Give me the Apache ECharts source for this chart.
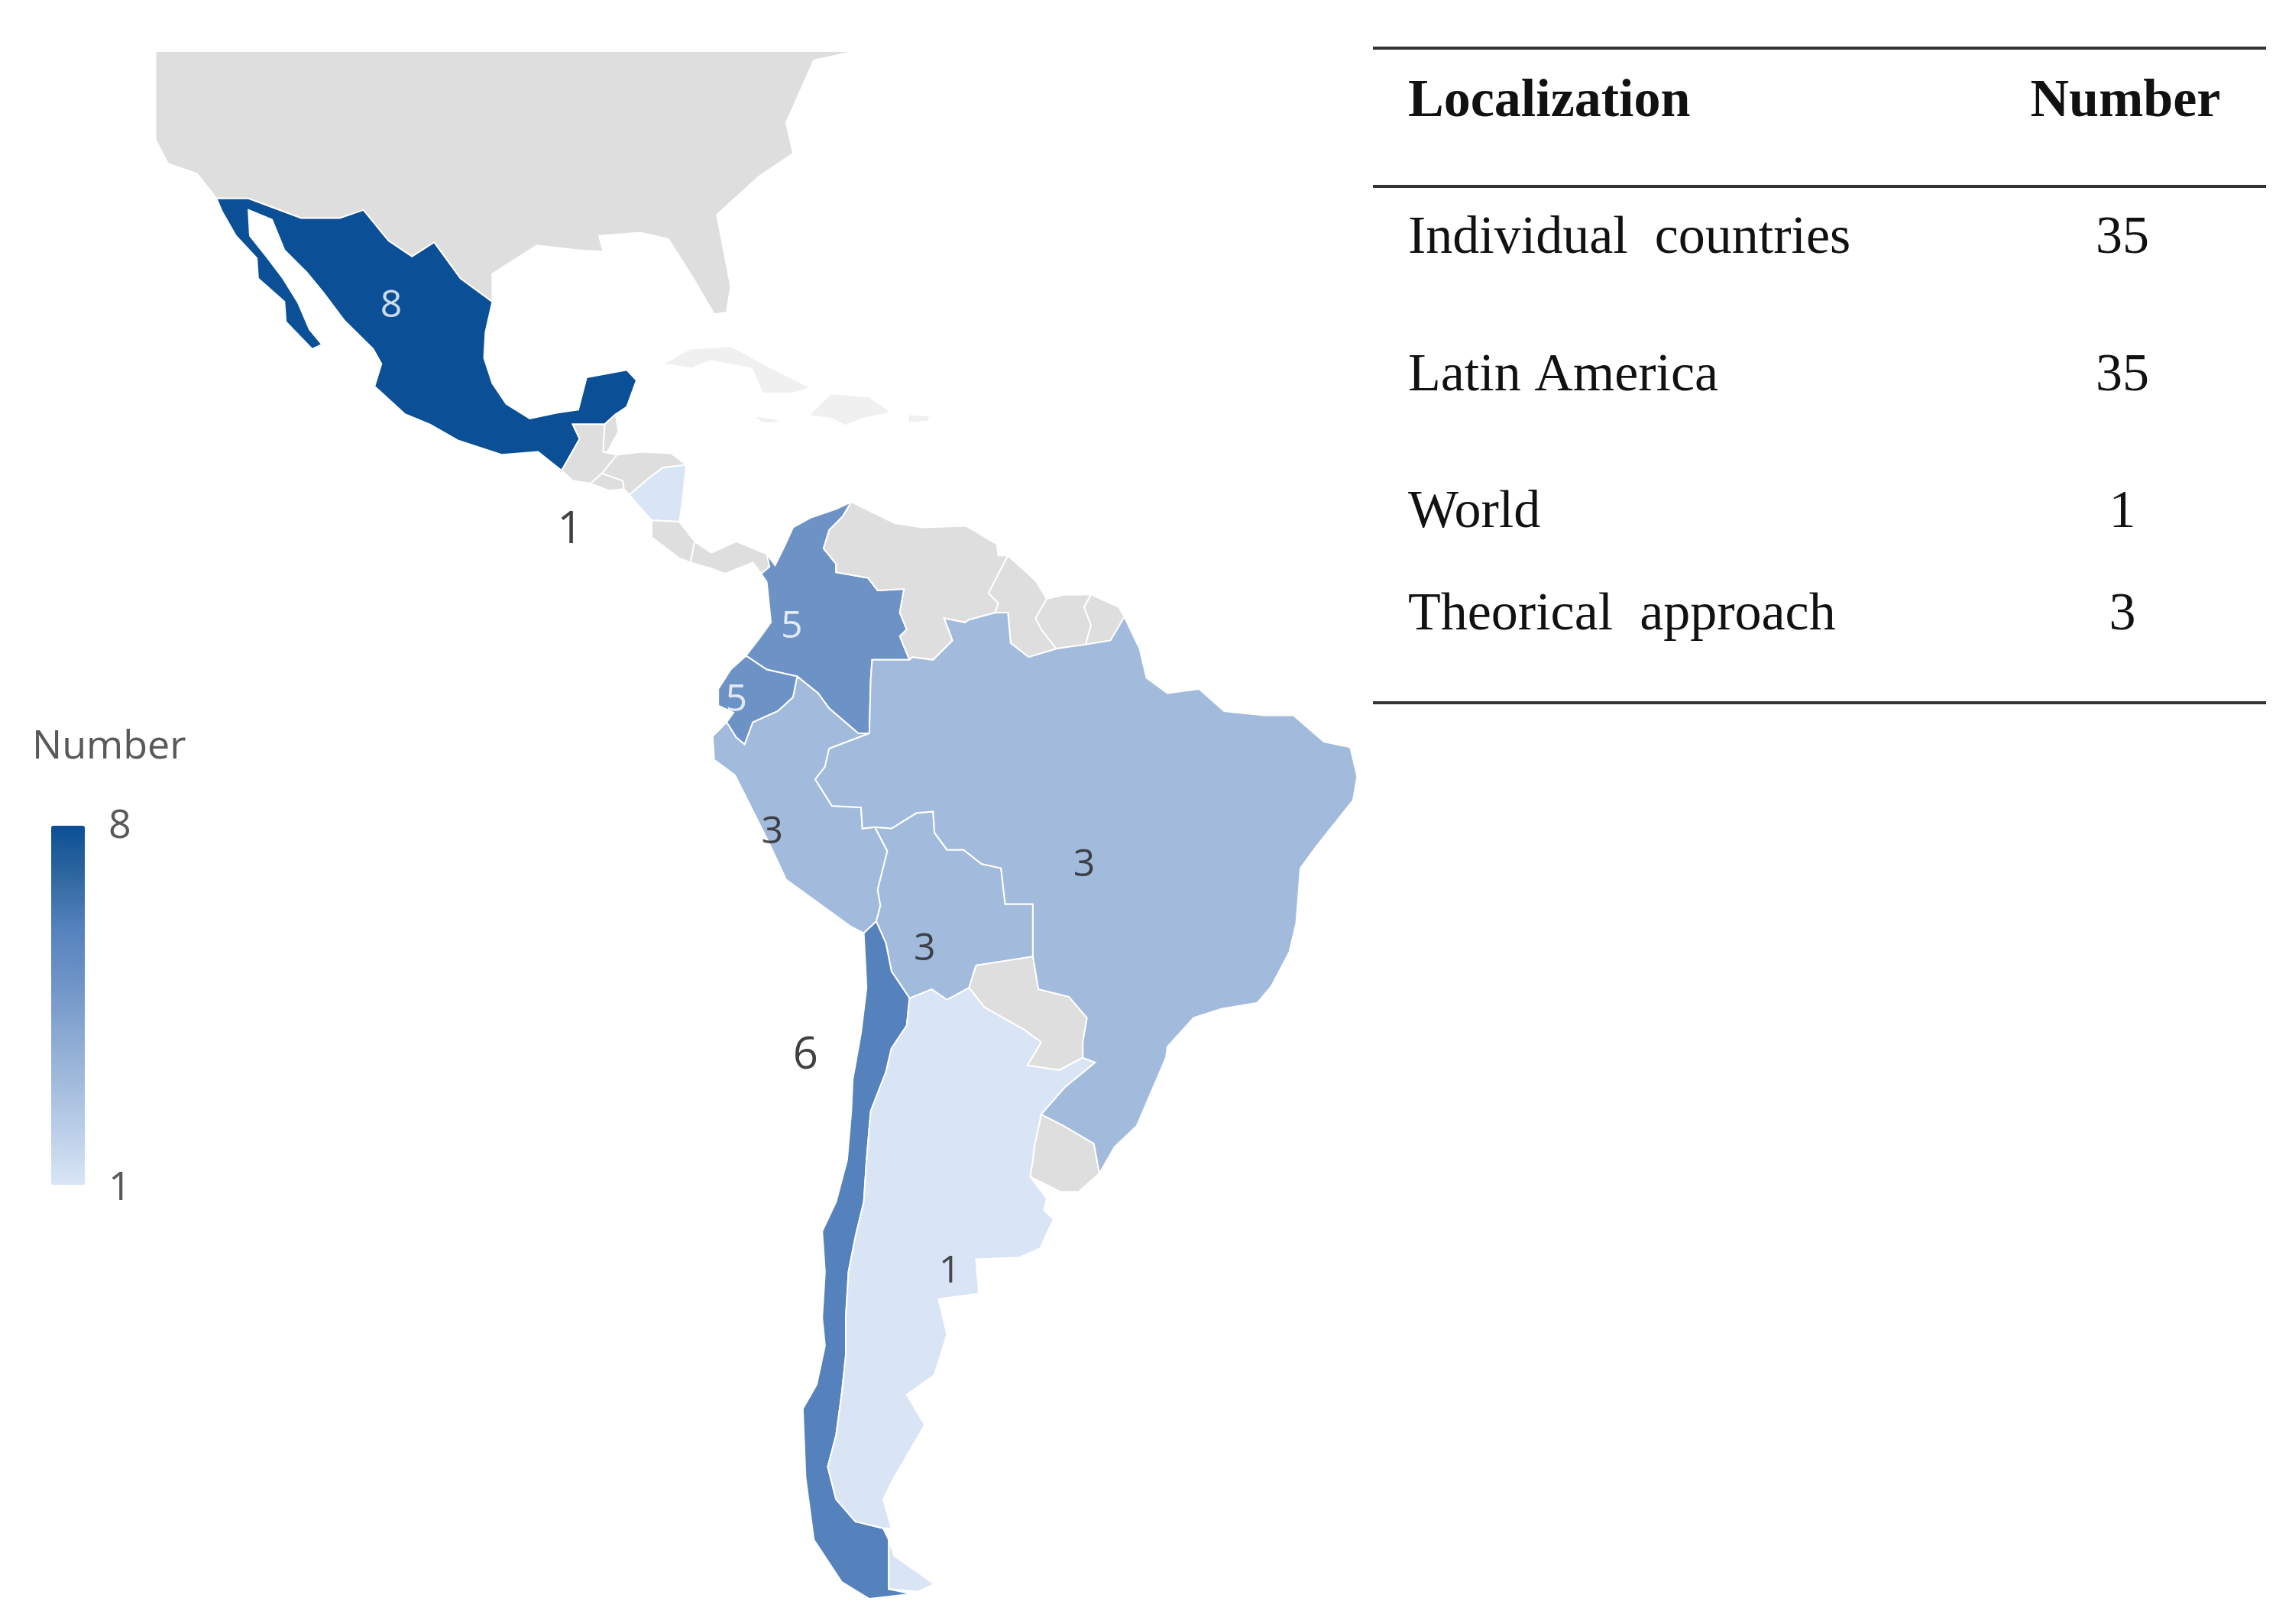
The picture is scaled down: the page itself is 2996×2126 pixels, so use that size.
<!DOCTYPE html>
<html><head><meta charset="utf-8">
<script src="https://cdn.jsdelivr.net/npm/echarts@6/dist/echarts.min.js"></script>
<style>html,body{margin:0;background:#fff}#c{width:2996px;height:2126px}</style>
</head><body><div id="c"></div>
<script>
// ---- data ----
const countries = ['Mexico','Nicaragua','Colombia','Ecuador','Peru','Brazil','Bolivia','Chile','Argentina'];
const values    = [8, 1, 5, 5, 3, 3, 3, 6, 1];
const tableHeader = ['Localization','Number'];
const tableRows = ['Individual  countries','Latin America','World','Theorical  approach'];
const tableNums = [35, 35, 1, 3];
const labelCountries = ['Mexico','Nicaragua','Colombia','Ecuador','Peru','Brazil','Bolivia','Chile','Argentina'];
const labelLonLat = [[-104.5,25.7],[-91.6,10.4],[-75.6,3.5],[-79.6,-1.8],[-77,-11.3],[-54.5,-13.6],[-66,-19.4],[-74.6,-26.5],[-64.2,-39.5]];

// ---- basemap outlines (lon, lat) ----
const shapes = {
 'United States':[[[-121.5,41],[-71,41],[-74,40.5],[-76,37],[-75.5,35.2],[-78,33.8],[-81,31.5],[-80,27],[-80.3,25.3],[-81.2,25.2],[-82.7,27.5],[-84.5,30],[-86.5,30.4],[-89.5,30.2],[-89.2,29.2],[-91,29.3],[-94,29.6],[-97.2,27.8],[-97.2,26],[-99.5,27.5],[-101.4,29.8],[-103,28.9],[-104.7,29.9],[-106.5,31.8],[-108.2,31.3],[-111,31.3],[-114.8,32.5],[-117.1,32.5],[-118.5,34],[-120.6,34.6],[-121.5,36],[-121.5,41]]],
 'Mexico':[[[-117.1,32.5],[-114.8,32.5],[-111,31.3],[-108.2,31.3],[-106.5,31.8],[-104.7,29.9],[-103,28.9],[-101.4,29.8],[-99.5,27.5],[-97.2,26],[-97.7,24],[-97.8,22.3],[-97.2,20.6],[-96.2,19.2],[-94.5,18.2],[-92.5,18.6],[-91,18.8],[-90.4,21],[-87.5,21.5],[-86.8,20.8],[-87.5,19],[-88.3,18.5],[-89.1,17.8],[-91.4,17.8],[-90.9,16.8],[-92.2,14.6],[-93.9,15.9],[-96.5,15.7],[-99.7,16.7],[-101.7,17.8],[-103.5,18.5],[-105.7,20.4],[-105.2,21.9],[-105.8,22.9],[-107.9,24.8],[-109.4,26.6],[-110.6,27.9],[-112.2,29.3],[-113.1,31.2],[-114.8,31.8],[-114.7,30.2],[-113.5,28.9],[-112.3,27.5],[-111.2,25.9],[-110.4,24.2],[-109.5,23.2],[-110.2,22.9],[-112.1,24.7],[-112.2,26],[-114.1,27.5],[-114.2,28.8],[-115.7,30.2],[-116.7,31.7],[-117.1,32.5]]],
 'Guatemala':[[[-92.2,14.6],[-90.9,16.8],[-91.4,17.8],[-89.1,17.8],[-89.2,15.9],[-88.2,15.7],[-89.3,14.4],[-90.1,13.7],[-91.4,13.9]]],
 'Belize':[[[-89.1,17.8],[-88.3,18.5],[-88.1,17.3],[-88.9,15.9],[-89.2,15.9]]],
 'El Salvador':[[[-90.1,13.7],[-89.3,14.4],[-87.8,13.9],[-87.7,13.3],[-88.8,13.2]]],
 'Honduras':[[[-89.3,14.4],[-88.2,15.7],[-86.4,15.9],[-84.3,15.8],[-83.2,15],[-84.9,14.8],[-86,14],[-87.3,12.9],[-87.7,13.3],[-87.8,13.9]]],
 'Nicaragua':[[[-87.3,12.9],[-86,14],[-84.9,14.8],[-83.2,15],[-83.5,12.4],[-83.7,11],[-85.7,11.1],[-86.8,12.3]]],
 'Costa Rica':[[[-85.7,11.1],[-83.7,11],[-82.6,9.6],[-82.9,8.1],[-83.7,8.4],[-85.7,9.9]]],
 'Panama':[[[-82.9,8.1],[-82.6,9.6],[-81.4,8.8],[-79.6,9.6],[-77.4,8.7],[-77.2,7.8],[-77.8,7.3],[-78.4,8.1],[-80.4,7.3],[-81.5,7.7]]],
 'Colombia':[[[-77.4,8.7],[-76.8,7.9],[-76.1,9.3],[-75.5,10.6],[-74.2,11.3],[-72.4,11.9],[-71.3,12.4],[-71.9,11.4],[-72.9,10.4],[-73.3,9.1],[-72.4,8],[-72.4,7.4],[-70.1,7],[-69.4,6.1],[-67.5,6.2],[-67.8,4.5],[-67.3,3.3],[-67.8,2.8],[-67.1,1.1],[-69.8,1.1],[-69.9,-0.3],[-70,-4.2],[-70.8,-4.2],[-72.9,-2.4],[-73.7,-1.3],[-75.2,-0.1],[-77.4,0.4],[-78.9,1.4],[-77.9,2.7],[-77.1,3.8],[-77.4,6.7],[-77.8,7.3],[-77.2,7.8]]],
 'Venezuela':[[[-71.3,12.4],[-68.2,10.9],[-66.2,10.6],[-63,10.7],[-60.8,9.4],[-60.7,8.6],[-60,8.6],[-61.4,5.9],[-60.7,5.2],[-60.9,4.5],[-62.8,4],[-63.1,3.8],[-64.6,4.1],[-64,2.5],[-65.4,1.1],[-66.9,1.3],[-67.1,1.1],[-67.8,2.8],[-67.3,3.3],[-67.8,4.5],[-67.5,6.2],[-69.4,6.1],[-70.1,7],[-72.4,7.4],[-72.4,8],[-73.3,9.1],[-72.9,10.4],[-71.9,11.4]]],
 'Guyana':[[[-60,8.6],[-58,6.8],[-57.2,5.5],[-58,4.1],[-57.6,3.3],[-56.5,1.9],[-58.5,1.3],[-59.8,2.3],[-60,4.5],[-60.9,4.5],[-60.7,5.2],[-61.4,5.9]]],
 'Suriname':[[[-57.2,5.5],[-55.9,5.8],[-54,5.8],[-54.5,4.9],[-54,3.6],[-54.4,2.2],[-55.9,2],[-56.5,1.9],[-57.6,3.3],[-58,4.1]]],
 'French Guiana':[[[-54,5.8],[-52,4.9],[-51.6,4.2],[-52.6,2.5],[-54.4,2.2],[-54,3.6],[-54.5,4.9]]],
 'Ecuador':[[[-80.3,-3.4],[-79.8,-2.7],[-80.9,-2.2],[-80.9,-1],[-80,0.4],[-78.9,1.4],[-77.4,0.4],[-75.2,-0.1],[-75.5,-1.6],[-76.6,-2.6],[-78.4,-3.4],[-79,-5],[-79.6,-4.5]]],
 'Peru':[[[-80.3,-3.4],[-79.6,-4.5],[-79,-5],[-78.4,-3.4],[-76.6,-2.6],[-75.5,-1.6],[-75.2,-0.1],[-73.7,-1.3],[-72.9,-2.4],[-70.8,-4.2],[-70,-4.2],[-72.9,-5.3],[-73.2,-6.6],[-73.9,-7.5],[-72.7,-9.4],[-70.6,-9.5],[-70.5,-11],[-69.6,-10.9],[-68.7,-12.6],[-69.4,-15.3],[-69.2,-16.4],[-69.5,-17.5],[-70.4,-18.3],[-71.4,-17.8],[-76,-14.6],[-77.2,-12.1],[-79.7,-7.2],[-81.2,-6.1],[-81.3,-4.4]]],
 'Bolivia':[[[-69.6,-10.9],[-68.7,-12.6],[-69.4,-15.3],[-69.2,-16.4],[-69.5,-17.5],[-68.8,-19],[-68.4,-20.9],[-67.1,-22.7],[-65.5,-22.1],[-64.4,-22.8],[-62.8,-22],[-62.3,-20.5],[-58.2,-19.9],[-58.2,-16.3],[-60.2,-16.3],[-60.5,-13.8],[-61.9,-13.5],[-63.2,-12.5],[-64.4,-12.5],[-65.3,-11.3],[-65.4,-9.8],[-66.6,-9.9],[-68.4,-11]]],
 'Paraguay':[[[-62.8,-22],[-61.7,-23.3],[-58.8,-24.8],[-57.6,-25.6],[-58.6,-27.1],[-56.3,-27.4],[-54.6,-26.6],[-54.6,-25.6],[-54.3,-24],[-55.6,-22.6],[-57.8,-22.1],[-58.2,-19.9],[-62.3,-20.5]]],
 'Uruguay':[[[-57.6,-30.2],[-56,-30.9],[-53.8,-32],[-53.4,-33.8],[-54.9,-34.9],[-56.2,-34.9],[-58.4,-34],[-58.2,-33],[-58.1,-32.2]]],
 'Chile':[[[-70.4,-18.3],[-69.5,-17.5],[-68.8,-19],[-68.4,-20.9],[-67.1,-22.7],[-67.3,-24.5],[-68.4,-26],[-68.8,-27.5],[-69.9,-30],[-70.2,-33],[-70.4,-35.5],[-71,-37.5],[-71.5,-39.5],[-71.7,-42],[-71.7,-44],[-72,-46],[-72.4,-48],[-73,-49.5],[-72.4,-51],[-71,-52],[-69,-52.3],[-68.6,-52.8],[-68.6,-54.9],[-67,-55.1],[-70,-55.3],[-72,-54.6],[-74,-52.8],[-74.6,-50],[-74.8,-46.7],[-73.8,-45.5],[-73.2,-43.5],[-73.4,-42],[-73.2,-39.5],[-73.4,-37.2],[-72.4,-35.5],[-71.6,-33],[-71.3,-30],[-71.2,-28],[-70.6,-25],[-70.2,-22]]],
 'Argentina':[[[-67.1,-22.7],[-65.5,-22.1],[-64.4,-22.8],[-62.8,-22],[-61.7,-23.3],[-58.8,-24.8],[-57.6,-25.6],[-58.6,-27.1],[-56.3,-27.4],[-54.6,-26.6],[-53.7,-26.9],[-55.9,-28.5],[-57.6,-30.2],[-58.1,-32.2],[-58.2,-33],[-58.4,-34],[-57.2,-35.3],[-57.4,-36],[-56.7,-36.5],[-57.7,-38.2],[-59.2,-38.7],[-62.3,-38.8],[-62.1,-40.7],[-65,-41],[-64.4,-42.9],[-65.3,-45],[-67.3,-46],[-66,-47.5],[-68.3,-50.1],[-69,-51],[-68.4,-52.3],[-69,-52.3],[-71,-52],[-72.4,-51],[-73,-49.5],[-72.4,-48],[-72,-46],[-71.7,-44],[-71.7,-42],[-71.5,-39.5],[-71,-37.5],[-70.4,-35.5],[-70.2,-33],[-69.9,-30],[-68.8,-27.5],[-68.4,-26],[-67.3,-24.5]],[[-68.6,-52.8],[-68.6,-54.9],[-66.5,-55],[-65.3,-54.7],[-68.2,-53.5]]],
 'Brazil':[[[-70,-4.2],[-72.9,-5.3],[-73.2,-6.6],[-73.9,-7.5],[-72.7,-9.4],[-70.6,-9.5],[-70.5,-11],[-69.6,-10.9],[-68.4,-11],[-66.6,-9.9],[-65.4,-9.8],[-65.3,-11.3],[-64.4,-12.5],[-63.2,-12.5],[-61.9,-13.5],[-60.5,-13.8],[-60.2,-16.3],[-58.2,-16.3],[-58.2,-19.9],[-57.8,-22.1],[-55.6,-22.6],[-54.3,-24],[-54.6,-25.6],[-54.6,-26.6],[-53.7,-26.9],[-55.9,-28.5],[-57.6,-30.2],[-56,-30.9],[-53.8,-32],[-53.4,-33.8],[-52.3,-32.2],[-50.7,-30.9],[-48.6,-26.6],[-48.5,-25.9],[-46.6,-24],[-44.6,-23.4],[-42,-23],[-41,-21.9],[-39.7,-19.6],[-39.2,-17.6],[-38.9,-13.8],[-37.7,-12.2],[-35.1,-9],[-34.8,-7.3],[-35.3,-5.2],[-37.2,-4.8],[-39.4,-2.9],[-41.5,-2.9],[-44.4,-2.6],[-46.2,-1],[-48.5,-1.3],[-50,-0.2],[-50.5,1.9],[-51.6,4.2],[-52.6,2.5],[-54.4,2.2],[-55.9,2],[-56.5,1.9],[-58.5,1.3],[-59.8,2.3],[-60,4.5],[-60.9,4.5],[-62.8,4],[-63.1,3.8],[-64.6,4.1],[-64,2.5],[-65.4,1.1],[-66.9,1.3],[-67.1,1.1],[-69.8,1.1],[-69.9,-0.3]]],
 'Cuba':[[[-84.9,21.9],[-83,22.9],[-80,23.1],[-77.2,21.7],[-74.2,20.3],[-75.6,19.9],[-77.7,19.9],[-78.5,21.6],[-81.5,22.1],[-82.8,21.6]]],
 'Hispaniola':[[[-74.4,18.4],[-72.8,19.9],[-70,19.7],[-68.4,18.6],[-70.5,18.2],[-71.7,17.7],[-72.8,18.2]]],
 'Jamaica':[[[-78.3,18.4],[-76.3,18.1],[-76.8,17.9],[-77.8,17.9]]],
 'Puerto Rico':[[[-67.2,18.5],[-65.6,18.4],[-65.8,18],[-67.2,17.9]]]
};
const islands = ['Cuba','Hispaniola','Jamaica','Puerto Rico'];

// Mercator pre-projection
const merc = lat => Math.log(Math.tan(Math.PI/4 + lat*Math.PI/360)) * 180/Math.PI;
const proj = p => [p[0], merc(p[1])];
const geo = {type:'FeatureCollection', features:Object.keys(shapes).map(n=>({
  type:'Feature', properties:{name:n},
  geometry:{type:'MultiPolygon', coordinates:shapes[n].map(r=>[r.map(proj)])}
}))};
echarts.registerMap('latam', geo);

const chart = echarts.init(document.getElementById('c'));
const serif = 'Liberation Serif';
const L=1797, R=2966;
const graphic = [
  {type:'line', shape:{x1:L,y1:63,x2:R,y2:63}, style:{stroke:'#333',lineWidth:4}},
  {type:'line', shape:{x1:L,y1:244,x2:R,y2:244}, style:{stroke:'#333',lineWidth:4}},
  {type:'line', shape:{x1:L,y1:920,x2:R,y2:920}, style:{stroke:'#333',lineWidth:4}},
  {type:'text', x:1843, y:134, style:{text:tableHeader[0], font:'bold 70px '+serif, fill:'#111', textVerticalAlign:'middle'}},
  {type:'text', x:2782, y:134, style:{text:tableHeader[1], font:'bold 70px '+serif, fill:'#111', textAlign:'center', textVerticalAlign:'middle'}},
  {type:'text', x:42, y:978, style:{text:'Number', font:'52px "Open Sans"', fill:'#595959', textVerticalAlign:'middle'}},
  {type:'text', x:142, y:1082, style:{text:'8', font:'52px "Open Sans"', fill:'#595959', textVerticalAlign:'middle'}},
  {type:'text', x:142, y:1556, style:{text:'1', font:'52px "Open Sans"', fill:'#595959', textVerticalAlign:'middle'}}
];
const rowY=[313,493,672,806];
tableRows.forEach((t,i)=>{
  graphic.push({type:'text', x:1843, y:rowY[i], style:{text:t, font:'70px '+serif, fill:'#111', textVerticalAlign:'middle'}});
  graphic.push({type:'text', x:2778, y:rowY[i], style:{text:String(tableNums[i]), font:'70px '+serif, fill:'#111', textAlign:'center', textVerticalAlign:'middle'}});
});

const labelColor = {Mexico:'#fff',Colombia:'#fff',Ecuador:'#fff',Nicaragua:'#111',Chile:'#111'};
chart.setOption({
  backgroundColor:'#fff',
  animation:false,
  graphic,
  visualMap:{type:'continuous', min:1, max:8, left:52, top:1066, itemWidth:44, itemHeight:470,
    text:['',''], calculable:false, seriesIndex:0,
    inRange:{color:['#d9e5f5','#bdd0e9','#a2bbdc','#88a7d1','#6d93c6','#5582bd','#30689f','#0b4f97']},
    textStyle:{color:'#595959'}},
  geo:{map:'latam', roam:false, aspectScale:1, layoutCenter:[990,1080], layoutSize:2026,
    itemStyle:{areaColor:'#dedede', borderColor:'#fff', borderWidth:2},
    emphasis:{disabled:true}, silent:true, label:{show:false},
    regions: islands.map(n=>({name:n, itemStyle:{areaColor:'#f0f0f0'}}))},
  series:[
    {type:'map', geoIndex:0, data:countries.map((c,i)=>({name:c, value:values[i]}))},
    {type:'scatter', coordinateSystem:'geo', symbolSize:0, silent:true,
      data:labelCountries.map((c,i)=>{
        const v = values[countries.indexOf(c)];
        return {name:c, value:[...proj(labelLonLat[i]), v],
          label:{color: labelColor[c]||'#222', fontSize:(c==='Chile'||c==='Nicaragua')?58:50}};
      }),
      label:{show:true, position:'inside', formatter:p=>p.value[2], fontSize:50, fontFamily:'Open Sans'}}
  ]
});
</script></body></html>
